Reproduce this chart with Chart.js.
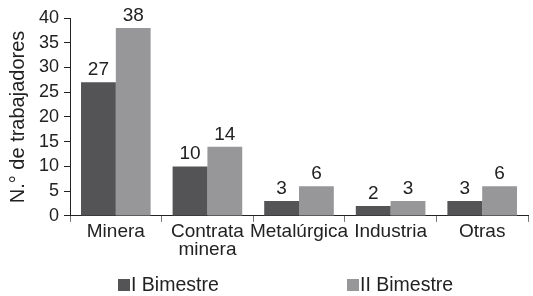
<!DOCTYPE html>
<html><head><meta charset="utf-8">
<script src="https://cdn.jsdelivr.net/npm/chart.js@4"></script>
<style>html,body{margin:0;padding:0;background:#fff}#wrap{width:533px;height:296px;position:relative}</style>
</head><body><div id="wrap"><canvas id="c" width="533" height="296"></canvas></div>
<script>
const categories = [['Minera'], ['Contrata', 'minera'], ['Metalúrgica'], ['Industria'], ['Otras']];
const seriesNames = ['I Bimestre', 'II Bimestre'];
const bimestre1 = [27, 10, 3, 2, 3];
const bimestre2 = [38, 14, 6, 3, 6];
const yTicks = [0, 5, 10, 15, 20, 25, 30, 35, 40];
const yTitle = 'N.\u00b0 de trabajadores';

const FONT = '"Liberation Sans", Arial, sans-serif';
const colors = ['#545457', '#97979a'];

const labelPlugin = {
  id: 'valLabels',
  afterDatasetsDraw(chart) {
    const ctx = chart.ctx;
    ctx.save();
    ctx.font = '19px ' + FONT;
    ctx.fillStyle = '#222';
    ctx.textAlign = 'center';
    ctx.textBaseline = 'alphabetic';
    chart.data.datasets.forEach((ds, i) => {
      chart.getDatasetMeta(i).data.forEach((el, j) => {
        ctx.fillText(String(ds.data[j]), el.x, el.y - 7);
      });
    });
    ctx.restore();
  }
};

const legendPlugin = {
  id: 'customLegend',
  afterDraw(chart) {
    const ctx = chart.ctx;
    const xs = [118, 347];
    const y = 285;
    ctx.save();
    ctx.font = '19.5px ' + FONT;
    ctx.textBaseline = 'middle';
    chart.data.datasets.forEach((ds, i) => {
      ctx.fillStyle = ds.backgroundColor;
      ctx.fillRect(xs[i], y - 6, 12, 12);
      ctx.fillStyle = '#222';
      ctx.fillText(ds.label, xs[i] + 13, y + 1);
    });
    ctx.restore();
  }
};

new Chart(document.getElementById('c'), {
  type: 'bar',
  data: {
    labels: categories,
    datasets: [
      { label: seriesNames[0], data: bimestre1, backgroundColor: colors[0] },
      { label: seriesNames[1], data: bimestre2, backgroundColor: colors[1] }
    ]
  },
  options: {
    responsive: false,
    animation: false,
    devicePixelRatio: 1,
    layout: { padding: { top: 18, right: 5, bottom: 36, left: 6 } },
    datasets: { bar: { categoryPercentage: 0.76, barPercentage: 1.0 } },
    plugins: { legend: { display: false }, tooltip: { enabled: false } },
    scales: {
      x: {
        grid: { display: true, drawOnChartArea: false, offset: true, tickLength: 6, color: '#777' },
        border: { color: '#222', width: 1 },
        ticks: { color: '#222', font: { size: 19, family: FONT, lineHeight: 0.95 }, padding: 1, maxRotation: 0, autoSkip: false }
      },
      y: {
        min: 0, max: 40,
        afterBuildTicks(axis) { axis.ticks = yTicks.map(v => ({ value: v })); },
        grid: { display: true, drawOnChartArea: false, tickLength: 6, color: '#222' },
        border: { color: '#222', width: 1 },
        ticks: { color: '#222', font: { size: 18, family: FONT }, padding: 5 },
        title: { display: true, text: yTitle, color: '#222', font: { size: 20, family: FONT }, padding: { top: 0, bottom: 4 } }
      }
    }
  },
  plugins: [labelPlugin, legendPlugin]
});
</script></body></html>
